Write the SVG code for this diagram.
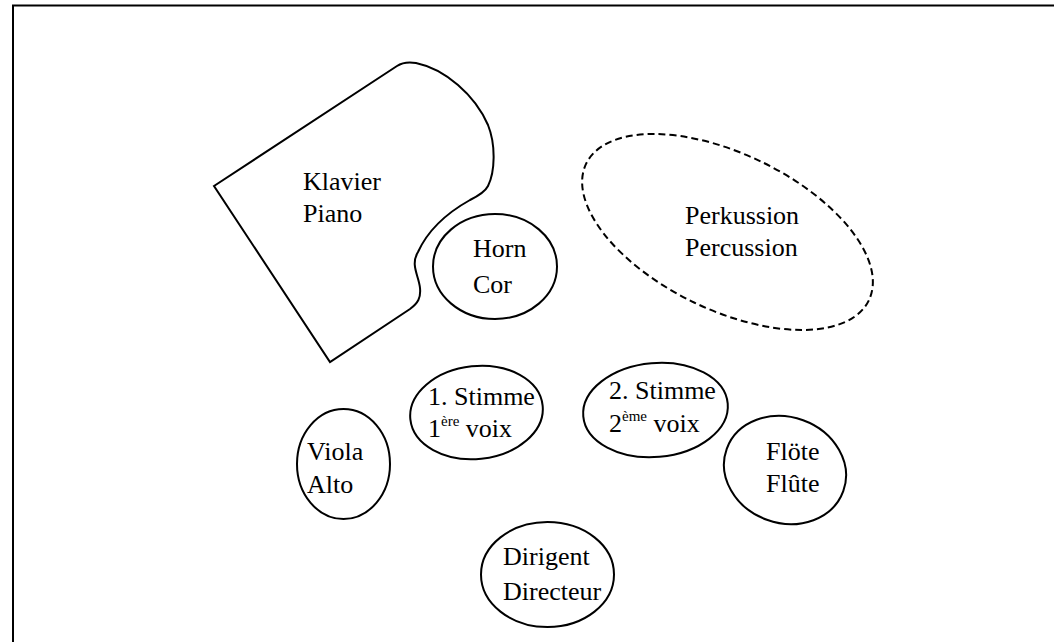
<svg xmlns="http://www.w3.org/2000/svg" width="1054" height="642" viewBox="0 0 1054 642">
<style>
.s{fill:none;stroke:#000;stroke-width:2}
.d{fill:none;stroke:#000;stroke-width:2;stroke-dasharray:7 4}
text{font-size:26px;fill:#000;font-family:"Liberation Serif","DejaVu Serif","Times New Roman",serif}
.sup{font-size:15px}
</style>
<rect width="1054" height="642" fill="#fff"/>
<g id="frame"><path class="s" d="M13,642 V5.5 H1054"/></g>
<g id="piano">
<path class="s" d="M214,186 L397,66 C403,62 410,62 416,63 C445,69 475,95 488,125 C496,145 495,172 488,186 C485,192 478,196 470,200 C445,214 428,230 418,252 C410,265 419,276 420,288 C421,298 418,303 410,309 L330,362 Z"/>
<text x="303" y="190">Klavier</text><text x="303" y="222">Piano</text>
</g>
<g id="horn">
<ellipse class="s" cx="495" cy="266.5" rx="62" ry="52.5"/>
<text x="473" y="257">Horn</text><text x="473" y="293">Cor</text>
</g>
<g id="percussion">
<ellipse class="d" cx="727.5" cy="232" rx="157" ry="78" transform="rotate(25.8 727.5 232)"/>
<text x="685" y="224">Perkussion</text><text x="685" y="256">Percussion</text>
</g>
<g id="voice1">
<ellipse class="s" cx="476.5" cy="412.5" rx="66.5" ry="46.5" transform="rotate(-6 476.5 412.5)"/>
<text x="428" y="405">1. Stimme</text>
<text x="428" y="437">1<tspan class="sup" dy="-11">ère</tspan><tspan dy="11"> voix</tspan></text>
</g>
<g id="voice2">
<ellipse class="s" cx="655.5" cy="410" rx="72.5" ry="47" transform="rotate(-5 655.5 410)"/>
<text x="609" y="399">2. Stimme</text>
<text x="609" y="432">2<tspan class="sup" dy="-11">ème</tspan><tspan dy="11"> voix</tspan></text>
</g>
<g id="viola">
<ellipse class="s" cx="343.5" cy="464" rx="46.5" ry="55"/>
<text x="307" y="460">Viola</text><text x="307" y="493">Alto</text>
</g>
<g id="flute">
<ellipse class="s" cx="785" cy="470" rx="62" ry="53" transform="rotate(20 785 470)"/>
<text x="766" y="460">Flöte</text><text x="766" y="492">Flûte</text>
</g>
<g id="conductor">
<ellipse class="s" cx="547.5" cy="574.5" rx="66.5" ry="52.5"/>
<text x="503" y="565">Dirigent</text><text x="503" y="600">Directeur</text>
</g>
<g id="connectors"/>
</svg>
